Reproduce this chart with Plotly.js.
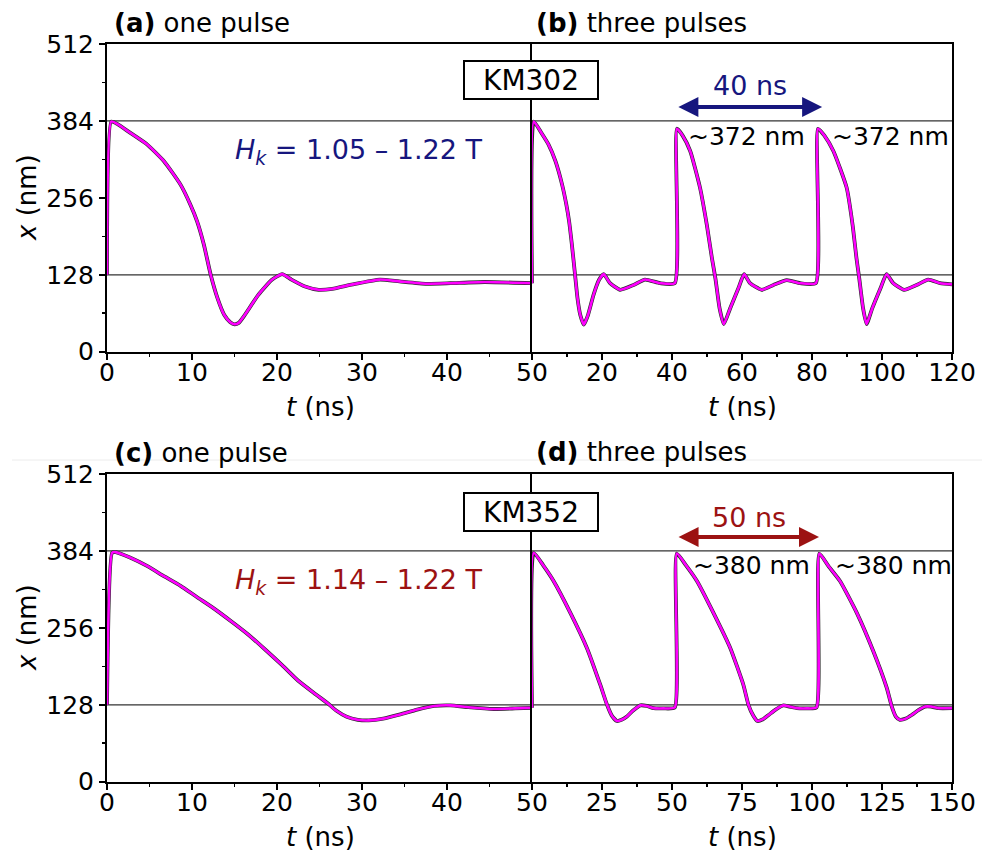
<!DOCTYPE html>
<html>
<head>
<meta charset="utf-8">
<script src="https://cdn.plot.ly/plotly-3.0.1.min.js"></script>
<style>html,body{margin:0;padding:0;background:#fff;}#chart{width:982px;height:853px;}</style>
</head>
<body>
<div id="chart"></div>
<script>
// ---- data ----
// (a) KM302, one pulse
const tA = [0, 0.5, 1.2, 2.7, 4.7, 6.7, 8.65, 9.8, 10.6, 11.4, 12.2, 13.0, 13.8, 14.5, 15.0, 15.5, 16.2, 17.8, 19.4, 20.6, 21.7, 23.3, 24.9, 26.5, 28.9, 32.1, 34.4, 37.6, 40.4, 44.4, 50];
const xA = [128, 383, 379, 364.5, 345, 317, 278, 245, 217, 178, 128, 89, 61, 49, 45.6, 48, 61, 94.6, 119.7, 129, 120, 108.5, 103, 104.6, 112, 120, 117, 113, 114, 116, 114];
// (b) KM302, three pulses
const tB = [0, 0.5, 2.7, 4.7, 6.7, 8.6, 9.8, 10.6, 11.4, 12.3, 13.0, 13.8, 14.8, 16.0, 17.6, 19.2, 20.5, 22.3, 25.2, 29, 32.3, 36.6, 40.8,
  41.4, 43, 45.2, 48, 49.95, 51.4, 52.4, 53.6, 54.8, 56.6, 59, 60.6, 62.3, 65.6, 69, 72.8, 76.6, 81.1,
  81.7, 83.5, 86.1, 89.9, 91.6, 92.7, 93.5, 94.6, 95.6, 97.2, 99.6, 101.3, 103.2, 106.3, 109.9, 113.2, 116.6, 120];
const xB = [114, 383, 364, 345, 317, 278, 245, 217, 178, 128, 89, 61, 45, 61, 95, 120, 129, 114, 103, 111, 120, 114, 114,
  371, 360, 334, 273, 211, 156, 122, 72, 46, 72, 106, 129, 114, 103, 111, 119, 114, 114,
  371, 360, 334, 273, 211, 156, 122, 72, 46, 72, 106, 129, 114, 103, 111, 120, 114, 112];
// (c) KM352, one pulse
const tC = [0, 0.6, 1.0, 2.7, 4.7, 6.7, 8.65, 10.6, 12.6, 14.6, 16.6, 18.6, 20.6, 22.5, 24.5, 26.0, 27.0, 28.2, 29.5, 30.8, 32.5, 34.5, 36.5, 38.5, 40.4, 42.5, 45.5, 48, 50];
const xC = [128, 381, 382, 373, 359, 342, 326, 307, 288, 267, 245, 220, 194, 168, 146, 130, 118, 108, 103, 102, 105, 112, 120, 126, 127, 124, 121, 122, 123];
// (d) KM352, three pulses
const tD = [0, 0.6, 4, 7.7, 13.7, 19.6, 24.4, 26.8, 28.5, 30.3, 32, 33.9, 36, 38.7, 41, 43.4, 47, 51.0,
  51.7, 55, 58.9, 64.8, 70.8, 75.5, 77.3, 79, 80.5, 82.5, 84.5, 87, 89.8, 92, 94.6, 98, 101.6,
  102.6, 106, 110, 116, 121.9, 126.7, 128.5, 130, 131.4, 133.5, 135.6, 138, 140.4, 142.5, 145.1, 150];
const xD = [123, 381, 360, 334, 281, 222.6, 161, 128, 110, 101, 103, 108.5, 118, 127, 126, 122.4, 122, 123.5,
  379.5, 360, 334, 281, 222.6, 161, 128, 110, 101, 104, 111, 120, 127, 125, 122.4, 122, 123.5,
  379.5, 358, 334, 281, 217, 156, 125, 108, 103, 105, 111, 119, 125, 125, 122.4, 122.4];

// tick labels
const yTickVals = [0, 128, 256, 384, 512];
const yTickText = ['0', '128', '256', '384', '512'];
const xTickValsA = [0, 10, 20, 30, 40, 50];
const xTickTextA = ['0', '10', '20', '30', '40', '50'];
const xTickValsB = [20, 40, 60, 80, 100, 120];
const xTickTextB = ['20', '40', '60', '80', '100', '120'];
const xTickValsD = [25, 50, 75, 100, 125, 150];
const xTickTextD = ['25', '50', '75', '100', '125', '150'];
const refLevels = [384, 128];

// ---- layout helpers ----
const W = 982, H = 853;
const FONT = 'DejaVu Sans';
const px = v => v / W;
const py = v => 1 - v / H;
const MAG = '#ff00ff', DARK = '#2a2a2a';
const NAVY = '#16167e', DRED = '#9c1212';

function pair(t, x, xa, ya) {
  return [
    {x: t, y: x, xaxis: xa, yaxis: ya, mode: 'lines', line: {color: DARK, width: 3.8, shape: 'spline', smoothing: 0.5}, hoverinfo: 'skip'},
    {x: t, y: x, xaxis: xa, yaxis: ya, mode: 'lines', line: {color: MAG, width: 2.6, shape: 'spline', smoothing: 0.5}, hoverinfo: 'skip'}
  ];
}
const data = [].concat(pair(tA, xA, 'x', 'y'), pair(tB, xB, 'x2', 'y2'), pair(tC, xC, 'x3', 'y3'), pair(tD, xD, 'x4', 'y4'));

const domLeft = [px(107), px(532)], domRight = [px(532), px(952)];
const domTop = [py(351.7), py(44)], domBot = [py(781.7), py(474)];
const tickFont = {family: FONT, size: 25, color: '#000'};

function xax(dom, anchor, range, vals, text, minorD) {
  return {domain: dom, anchor: anchor, range: range, tickmode: 'array', tickvals: vals, ticktext: text,
    ticks: 'outside', ticklen: 6, tickwidth: 2, tickcolor: '#000', showline: true, linewidth: 2, linecolor: '#000',
    mirror: true, showgrid: false, zeroline: false, tickfont: tickFont, fixedrange: true, ticklabelstandoff: -9,
    minor: {dtick: minorD, tick0: 0, ticks: 'outside', ticklen: 3, tickwidth: 1.5, tickcolor: '#000', showgrid: false}};
}
function yax(dom, anchor, labels) {
  return {domain: dom, anchor: anchor, range: [0, 512], tickmode: 'array', tickvals: yTickVals, ticktext: yTickText,
    showticklabels: labels, ticks: labels ? 'outside' : '', ticklen: 6, tickwidth: 2, tickcolor: '#000',
    showline: true, linewidth: 2, linecolor: '#000', mirror: !labels, showgrid: false, zeroline: false,
    tickfont: tickFont, fixedrange: true,
    minor: labels ? {dtick: 64, tick0: 0, ticks: 'outside', ticklen: 3, tickwidth: 1.5, tickcolor: '#000', showgrid: false} : {ticks: ''}};
}

const shapes = [];
['y', 'y3'].forEach(ya => {
  refLevels.forEach(lv => shapes.push({type: 'line', xref: 'paper', yref: ya, x0: px(107), x1: px(952), y0: lv, y1: lv,
    line: {color: '#333', width: 1.2}, layer: 'below'}));
});
shapes.push({type: 'line', xref: 'paper', yref: 'paper', x0: px(12), x1: px(982), y0: py(460), y1: py(460), line: {color: '#ececec', width: 1}});

function txt(text, x, y, size, color, xanchor, extra) {
  return Object.assign({text: text, xref: 'paper', yref: 'paper', x: x, y: y, xanchor: xanchor || 'center', yanchor: 'middle',
    showarrow: false, font: {family: FONT, size: size, color: color || '#000'}}, extra || {});
}
function arrow(xa, ya, x0, x1, y, color) {
  return {xref: xa, yref: ya, axref: xa, ayref: ya, x: x1, y: y, ax: x0, ay: y, text: '', showarrow: true,
    arrowhead: 2, arrowside: 'end+start', arrowsize: 1.0, arrowwidth: 4, arrowcolor: color, standoff: 0, startstandoff: 0};
}
const boxExtra = {bordercolor: '#000', borderwidth: 2, borderpad: 2, bgcolor: '#fff', width: 128, height: 32};

const annotations = [
  txt('<b>(a)</b> one pulse', px(112), py(23), 26, '#000', 'left'),
  txt('<b>(b)</b> three pulses', px(534), py(23), 26, '#000', 'left'),
  txt('<b>(c)</b> one pulse', px(112), py(453), 26, '#000', 'left'),
  txt('<b>(d)</b> three pulses', px(534), py(452), 26, '#000', 'left'),
  txt('<i>x</i> (nm)', px(27), py(198), 26, '#000', 'center', {textangle: -90}),
  txt('<i>x</i> (nm)', px(27), py(628), 26, '#000', 'center', {textangle: -90}),
  txt('<i>t</i> (ns)', px(320), py(407), 26),
  txt('<i>t</i> (ns)', px(742), py(407), 26),
  txt('<i>t</i> (ns)', px(320), py(837), 26),
  txt('<i>t</i> (ns)', px(742), py(837), 26),
  txt('KM302', px(531), py(80), 28, '#000', 'center', boxExtra),
  txt('KM352', px(531), py(512), 28, '#000', 'center', boxExtra),
  txt('<i>H</i><sub><i>k</i></sub> = 1.05 – 1.22 T', px(359), py(151), 27, NAVY),
  txt('<i>H</i><sub><i>k</i></sub> = 1.14 – 1.22 T', px(359), py(581), 27, DRED),
  txt('40 ns', px(750), py(86), 27, NAVY),
  txt('50 ns', px(749), py(517), 27, DRED),
  txt('~372 nm', px(686), py(137), 25, '#000', 'left'),
  txt('~372 nm', px(830), py(137), 25, '#000', 'left'),
  txt('~380 nm', px(691), py(565), 25, '#000', 'left'),
  txt('~380 nm', px(833), py(565), 25, '#000', 'left'),
  arrow('x2', 'y2', 41.4, 82.9, 407, NAVY),
  arrow('x4', 'y4', 51.8, 102.5, 407, DRED)
];

const layout = {
  width: W, height: H, margin: {l: 0, r: 0, t: 0, b: 0}, paper_bgcolor: '#fff', plot_bgcolor: 'rgba(0,0,0,0)',
  showlegend: false, font: {family: FONT, color: '#000'},
  xaxis: xax(domLeft, 'y', [0, 50], xTickValsA, xTickTextA, 5),
  yaxis: yax(domTop, 'x', true),
  xaxis2: xax(domRight, 'y2', [0, 120], xTickValsB, xTickTextB, 10),
  yaxis2: yax(domTop, 'x2', false),
  xaxis3: xax(domLeft, 'y3', [0, 50], xTickValsA, xTickTextA, 5),
  yaxis3: yax(domBot, 'x3', true),
  xaxis4: xax(domRight, 'y4', [0, 150], xTickValsD, xTickTextD, 12.5),
  yaxis4: yax(domBot, 'x4', false),
  shapes: shapes, annotations: annotations
};
Plotly.newPlot('chart', data, layout, {displayModeBar: false, staticPlot: true});
</script>
</body>
</html>
